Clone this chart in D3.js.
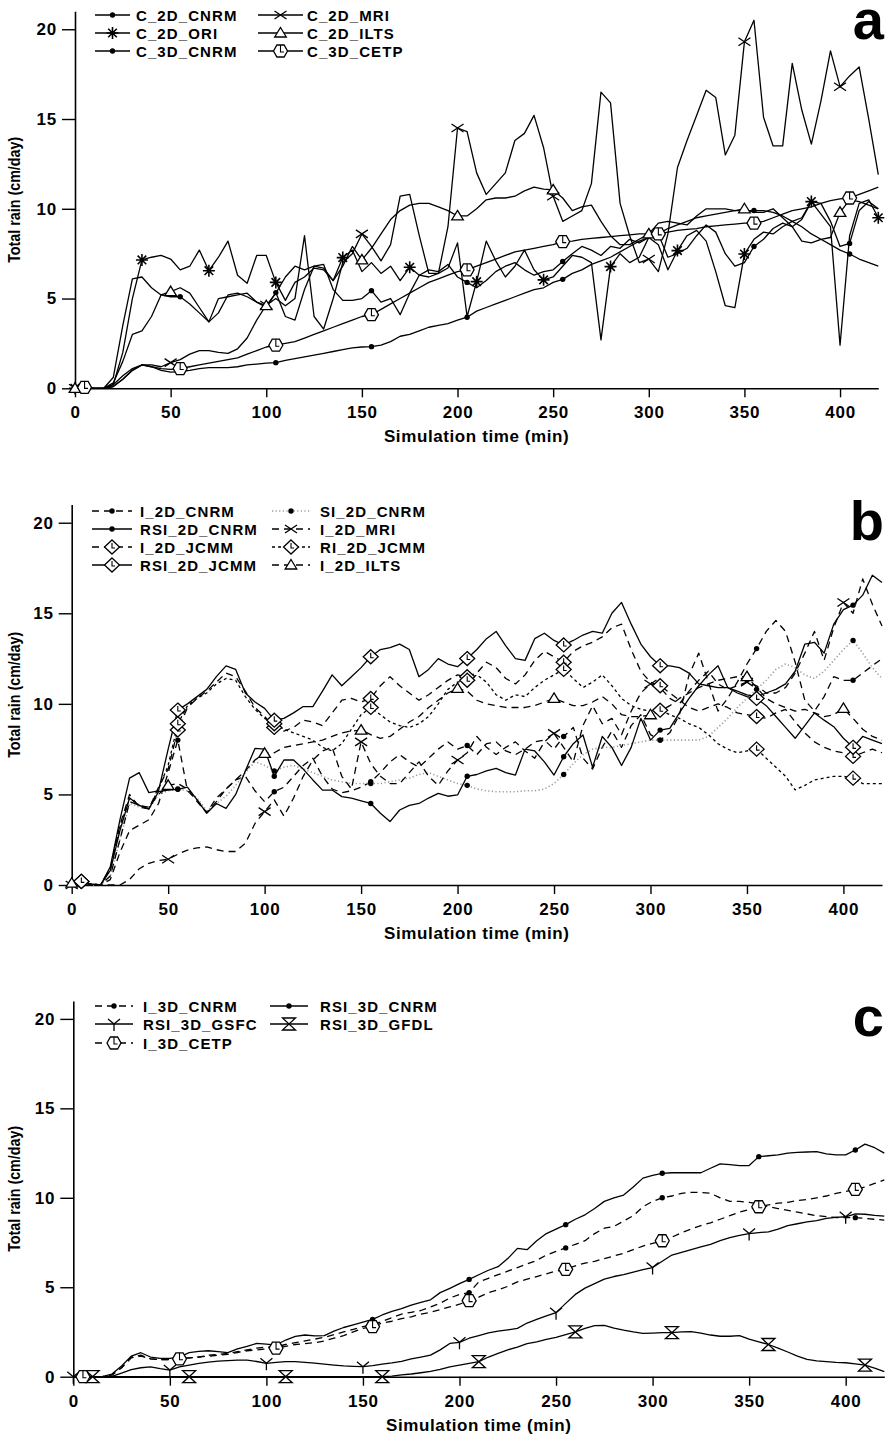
<!DOCTYPE html>
<html>
<head>
<meta charset="utf-8">
<script src="https://cdn.jsdelivr.net/npm/d3@7"></script>
<style>
  body { margin: 0; background: #fff; }
  svg { display: block; }
  text { font-family: "Liberation Sans", Arial, Helvetica, sans-serif; font-weight: bold; fill: #000; }
</style>
</head>
<body>
<svg id="chart"></svg>
<script>
// simulation output every 5 minutes, 0..420
const TIME = d3.range(0, 421, 5);
const X_TICKS = [0, 50, 100, 150, 200, 250, 300, 350, 400];
const Y_TICKS = [0, 5, 10, 15, 20];

// ---- panel a : control runs ----
const C2D_CNRM = [
  0.1, 0.1, 0, 0, 0.6, 3.5, 6.1, 6.2, 5.6, 5.2,
  5.1, 5.1, 4.7, 4.2, 3.7, 5.0, 5.1, 5.2, 5.3, 4.8,
  4.5, 5.33, 4.0, 3.8, 5.5, 6.8, 6.9, 5.5, 4.9, 4.9,
  5.0, 5.44, 4.8, 5.0, 4.1, 5.3, 6.3, 6.6, 6.5, 6.9,
  6.2, 5.9, 5.6, 6.0, 6.5, 6.8, 7.0, 6.6, 6.3, 6.5,
  6.6, 7.06, 7.5, 7.9, 7.7, 7.4, 7.9, 7.8, 8.3, 8.1,
  8.4, 8.6, 7.3, 7.5, 7.8, 8.5, 9.1, 8.7, 7.5, 6.8,
  7.0, 7.9, 8.3, 8.9, 9.2, 9.0, 9.4, 10.4, 10.3, 9.3,
  7.9, 8.07, 9.9, 10.4, 10.0];
const C2D_MRI = [
  0, 0, 0, 0, 0.1, 0.5, 1.0, 1.3, 1.3, 1.2,
  1.43, 1.6, 1.9, 2.1, 2.1, 2.0, 1.95, 2.2, 2.8, 3.8,
  4.64, 5.0, 4.6, 5.0, 8.5, 4.0, 3.3, 5.0, 7.0, 7.5,
  8.6, 7.9, 7.1, 8.0, 10.7, 10.8, 8.5, 6.4, 6.4, 9.0,
  14.5, 14.3, 12.0, 10.8, 11.4, 12.0, 13.8, 14.2, 15.2, 13.4,
  10.7, 9.3, 9.6, 9.9, 11.4, 16.5, 15.9, 10.3, 8.5, 7.0,
  7.2, 6.5, 8.6, 12.3, 13.8, 15.2, 16.6, 16.2, 13.0, 14.1,
  19.3, 20.5, 15.1, 13.5, 13.5, 18.1, 15.5, 13.6, 16.0, 18.8,
  16.8, 17.4, 17.9, 15.0, 11.9];
const C2D_ORI = [
  0, 0, 0, 0, 0.2, 2.0, 5.0, 7.15, 7.3, 7.4,
  7.2, 6.6, 6.8, 7.7, 6.55, 7.3, 8.2, 6.3, 5.85, 7.4,
  7.4, 5.9, 4.9, 5.9, 6.2, 6.7, 6.6, 6.0, 7.28, 7.7,
  6.5, 7.0, 6.4, 6.8, 6.0, 6.74, 6.3, 6.2, 6.4, 6.7,
  8.1, 4.0, 5.94, 8.2, 7.1, 6.2, 6.8, 7.7, 6.6, 6.04,
  6.2, 6.8, 7.4, 7.3, 7.0, 2.7, 6.78, 7.5, 7.0, 7.3,
  8.4, 8.0, 6.6, 7.67, 8.5, 8.8, 8.2, 6.5, 4.6, 4.5,
  7.48, 8.3, 8.7, 8.6, 9.0, 9.3, 9.5, 10.4, 9.7, 9.0,
  2.4, 8.5, 10.3, 10.5, 9.5];
const C2D_ILTS = [
  0, 0, 0, 0, 0.3, 1.5, 3.0, 3.2, 4.0, 5.2,
  5.39, 5.6, 5.3, 4.5, 3.7, 4.2, 5.2, 5.3, 5.1, 4.8,
  4.6, 5.3, 6.2, 6.8, 6.6, 6.8, 6.7, 6.0, 6.8, 7.9,
  7.15, 7.8, 8.6, 9.4, 9.9, 10.2, 10.3, 10.3, 10.1, 9.9,
  9.6, 9.6, 10.0, 10.5, 10.6, 10.6, 10.7, 11.0, 11.2, 11.1,
  11.05, 10.6, 9.9, 10.1, 10.2, 9.3, 8.5, 8.0, 8.0, 8.3,
  8.6, 9.2, 9.3, 9.2, 9.1, 9.6, 10.0, 10.0, 10.0, 9.9,
  10.0, 9.8, 9.8, 10.0, 9.5, 9.0, 8.2, 8.1, 8.3, 8.4,
  9.8, 10.5, 10.4, 10.2, 10.0];
const C3D_CNRM = [
  0, 0, 0, 0, 0.1, 0.5, 1.0, 1.3, 1.2, 1.0,
  0.9, 0.93, 1.0, 1.1, 1.15, 1.15, 1.15, 1.2, 1.3, 1.35,
  1.4, 1.43, 1.55, 1.65, 1.75, 1.85, 1.95, 2.05, 2.15, 2.25,
  2.3, 2.32, 2.4, 2.6, 2.9, 3.0, 3.2, 3.4, 3.5, 3.6,
  3.8, 3.96, 4.3, 4.5, 4.7, 4.9, 5.1, 5.3, 5.5, 5.6,
  5.9, 6.07, 6.4, 6.6, 6.9, 7.1, 7.3, 7.6, 7.9, 8.2,
  8.4, 8.6, 8.9, 9.1, 9.3, 9.5, 9.6, 9.7, 9.8, 9.9,
  9.9, 9.9, 9.9, 9.8, 9.6, 9.3, 9.0, 8.6, 8.3, 8.0,
  7.7, 7.48, 7.2, 7.0, 6.8];
const C3D_CETP = [
  0, 0.05, 0, 0, 0.2, 0.7, 1.1, 1.3, 1.2, 1.1,
  1.05, 1.1, 1.2, 1.3, 1.4, 1.5, 1.6, 1.7, 1.9, 2.1,
  2.3, 2.4, 2.5, 2.6, 2.8, 3.0, 3.2, 3.4, 3.6, 3.8,
  4.0, 4.1, 4.4, 4.7, 5.0, 5.3, 5.6, 5.9, 6.1, 6.3,
  6.5, 6.6, 6.8, 7.0, 7.2, 7.4, 7.6, 7.7, 7.8, 7.9,
  8.0, 8.17, 8.2, 8.3, 8.35, 8.4, 8.45, 8.5, 8.55, 8.6,
  8.6, 8.6, 8.7, 8.8, 8.85, 8.9, 9.0, 9.05, 9.1, 9.15,
  9.2, 9.2, 9.3, 9.5, 9.7, 9.9, 10.0, 10.1, 10.3, 10.45,
  10.55, 10.6, 10.8, 11.0, 11.2];

// ---- panel b : 2D runs with assimilation ----
const I2D_CNRM = [
  0.1, 0.15, 0.05, 0, 0.3, 1.8, 3.0, 3.3, 3.6, 4.5,
  6.2, 8.0, 5.2, 4.7, 4.0, 4.8, 5.3, 5.8, 6.0, 5.2,
  4.6, 5.15, 5.4, 6.0, 6.6, 7.0, 6.0, 5.3, 5.1, 5.2,
  5.4, 5.7, 6.2, 6.8, 7.2, 6.8, 6.5, 7.0, 7.5, 7.9,
  7.5, 7.7, 7.2, 7.8, 7.9, 7.4, 7.2, 7.5, 7.9, 8.0,
  7.5, 8.2, 8.7, 7.0, 6.4, 7.6, 8.5, 7.6, 8.8, 9.4,
  8.3, 8.0, 8.4, 9.4, 11.6, 12.8, 11.2, 9.6, 10.3, 11.2,
  12.2, 13.05, 14.0, 14.6, 14.0, 12.3, 10.2, 9.6, 10.4, 11.5,
  11.3, 11.3, 11.7, 12.1, 12.5];
const SI2D_CNRM = [
  0.1, 0.15, 0, 0, 0.5, 2.5, 4.5, 4.3, 4.2, 5.0,
  5.2, 5.3, 5.2, 4.8, 4.1, 4.5, 4.9, 5.5, 6.2, 6.8,
  6.6, 6.3, 6.5, 6.6, 6.4, 6.2, 6.0, 5.8, 5.7, 5.6,
  5.6, 5.6, 5.6, 5.7, 5.8, 5.9, 6.1, 6.2, 6.0, 5.8,
  5.6, 5.5, 5.3, 5.2, 5.15, 5.15, 5.15, 5.2, 5.2, 5.3,
  5.6, 6.1, 6.7, 7.2, 7.5, 7.6, 7.6, 7.7, 7.8, 7.9,
  8.0, 8.0, 8.0, 8.0, 8.0, 8.0, 8.2, 8.7, 9.2, 9.8,
  10.3, 10.8, 11.3, 11.9, 12.2, 12.0, 11.6, 11.4, 11.8, 12.4,
  13.0, 13.5, 12.8, 12.0, 11.4];
const RSI2D_CNRM = [
  0.1, 0.2, 0.05, 0, 0.8, 3.0, 4.8, 4.4, 4.2, 5.15,
  5.24, 5.28, 5.4, 4.7, 3.96, 4.5, 4.23, 5.0, 6.3, 7.54,
  7.5, 6.0, 6.9, 6.9, 6.4, 5.8, 5.24, 5.24, 4.88, 4.8,
  4.65, 4.5, 3.96, 3.5, 4.14, 4.4, 4.5, 4.8, 5.06, 4.9,
  4.97, 6.0, 6.1, 6.3, 6.44, 6.2, 6.07, 7.5, 7.4, 6.8,
  6.07, 7.08, 7.8, 8.28, 6.5, 8.2, 7.6, 6.6, 7.6, 9.2,
  8.0, 8.55, 8.65, 9.5, 10.3, 11.0, 11.6, 12.1, 10.9, 10.7,
  10.5, 10.4, 10.6, 10.8, 11.1, 11.8, 13.3, 13.4, 12.8, 14.4,
  15.2, 15.45, 16.0, 17.1, 16.7];
const I2D_MRI = [
  0, 0, 0, 0, 0, 0, 0.3, 0.9, 1.2, 1.35,
  1.42, 1.7, 1.93, 2.05, 2.1, 1.95, 1.85, 1.85, 2.3, 3.4,
  4.05, 4.7, 3.8, 4.8, 6.0, 6.9, 7.4, 7.6, 6.0, 5.3,
  7.9, 6.7, 6.0, 5.6, 5.6, 6.2, 6.8, 6.0, 5.5, 6.3,
  6.9, 7.3, 8.2, 7.6, 7.2, 7.6, 7.9, 7.4, 7.0, 7.9,
  8.37, 7.6, 6.8, 8.8, 9.9, 8.9, 9.2, 8.3, 9.6, 10.6,
  11.1, 10.9, 10.3, 10.0, 10.7, 11.3, 11.8, 11.1, 10.8, 11.0,
  11.2, 11.0, 10.6, 10.6, 10.9, 11.7, 12.8, 14.0, 12.4, 14.2,
  15.6, 15.0, 16.9, 15.5, 14.3];
const I2D_JCMM = [
  0.1, 0.2, 0.05, 0, 0.9, 3.3, 5.0, 4.3, 4.2, 5.4,
  6.4, 8.56, 9.8, 10.3, 10.7, 11.2, 11.7, 11.5, 10.7, 9.8,
  9.3, 8.7, 8.5, 8.7, 9.1, 9.0, 8.8, 9.5, 10.2, 10.3,
  10.1, 10.3, 11.0, 11.5, 11.0, 10.6, 10.2, 10.5, 10.9, 11.3,
  11.6, 11.5, 11.7, 12.3, 12.0, 11.4, 11.1, 11.6, 12.4, 12.9,
  12.6, 12.3, 12.9, 13.2, 13.4, 13.7, 14.2, 14.4, 13.0, 11.8,
  11.2, 11.0, 10.6, 10.2, 9.8, 9.6, 9.8, 10.0, 9.8, 9.5,
  9.4, 9.3, 9.2, 9.5, 9.7, 9.0, 8.4, 7.9, 7.6, 7.4,
  7.3, 7.1, 7.3, 7.5, 7.3];
const RI2D_JCMM = [
  0.1, 0.2, 0.05, 0, 0.9, 3.2, 4.8, 4.4, 4.2, 5.3,
  6.6, 8.9, 9.9, 10.3, 10.6, 11.1, 11.4, 11.3, 10.4, 9.7,
  9.2, 8.9, 8.6, 8.4, 8.2, 8.0, 7.6, 7.4, 7.8, 8.6,
  9.4, 9.8, 9.4, 9.0, 8.8, 8.7, 8.9, 9.3, 10.0, 10.8,
  11.2, 11.3, 11.6, 11.2, 10.5, 10.2, 10.5, 10.4, 10.9, 11.3,
  11.6, 11.9, 11.4, 10.9, 11.2, 11.6, 11.0, 10.3, 9.9, 9.7,
  9.6, 9.65, 9.4, 9.2, 8.9, 8.7, 8.3, 7.8, 7.5, 7.3,
  7.4, 7.5, 7.0, 6.5, 6.0, 5.25, 5.5, 5.8, 5.9, 6.0,
  6.0, 5.9, 5.6, 5.6, 5.6];
const RSI2D_JCMM = [
  0.1, 0.2, 0.05, 0, 1.0, 3.6, 5.9, 6.2, 5.1, 5.2,
  7.5, 9.66, 10.0, 10.4, 10.8, 11.5, 12.1, 11.9, 10.6, 10.1,
  9.75, 9.1, 9.2, 9.5, 9.85, 9.85, 10.7, 11.6, 11.0, 11.5,
  12.0, 12.6, 13.0, 13.1, 13.3, 13.0, 11.5, 11.9, 12.5, 12.2,
  12.05, 12.5, 13.0, 13.6, 14.0, 13.2, 12.5, 12.4, 13.6, 13.9,
  13.5, 13.25, 13.5, 13.8, 14.0, 13.9, 15.0, 15.6, 14.4, 13.3,
  12.6, 12.1, 12.1, 12.0, 11.7, 11.1, 11.0, 10.9, 10.9, 10.6,
  10.4, 10.3, 9.9, 9.3, 8.7, 8.1, 8.8, 9.5, 9.1, 8.74,
  8.1, 7.6, 8.2, 8.0, 7.8];
const I2D_ILTS = [
  0.1, 0.15, 0.05, 0, 0.5, 2.5, 4.6, 4.4, 4.3, 5.0,
  5.5, 5.6, 5.3, 4.6, 4.0, 4.6, 5.3, 5.8, 6.3, 6.9,
  7.27, 7.3, 7.6, 7.7, 7.8, 7.9, 8.0, 8.2, 8.4, 8.5,
  8.55, 8.3, 8.1, 8.2, 8.6, 9.0, 9.3, 9.8, 10.2, 10.6,
  10.85, 10.7, 10.2, 10.0, 9.9, 9.8, 9.8, 9.8, 9.9, 10.1,
  10.3, 10.1, 9.9, 9.9, 10.1, 10.4, 10.0, 9.4, 9.3, 9.3,
  9.4, 9.6, 9.9, 10.3, 10.6, 10.9, 11.1, 11.3, 11.4, 11.5,
  11.5, 10.9, 10.3, 10.0, 9.8, 9.6, 9.7, 9.5, 9.3, 9.4,
  9.75, 9.2, 8.6, 8.2, 8.0];

// ---- panel c : 3D runs ----
const I3D_CNRM = [
  0, 0.05, 0, 0, 0.1, 0.5, 1.1, 1.2, 1.0, 0.95,
  0.95, 1.0, 1.05, 1.1, 1.2, 1.25, 1.3, 1.4, 1.5, 1.6,
  1.65, 1.68, 1.8, 1.9, 2.0, 2.1, 2.2, 2.35, 2.5, 2.65,
  2.8, 2.9, 3.1, 3.3, 3.5, 3.6, 3.7, 3.9, 4.1, 4.4,
  4.6, 4.7, 5.3, 5.5, 5.7, 5.9, 6.1, 6.3, 6.5, 6.8,
  7.0, 7.2, 7.4, 7.6, 8.0, 8.3, 8.4, 8.7, 9.0, 9.5,
  9.8, 10.0, 10.1, 10.25, 10.3, 10.3, 10.25, 10.0, 9.8, 9.8,
  9.75, 9.65, 9.5, 9.4, 9.3, 9.2, 9.1, 9.0, 8.95, 8.9,
  8.9, 8.89, 8.85, 8.8, 8.75];
const RSI3D_CNRM = [
  0, 0.05, 0, 0, 0.15, 0.6, 1.15, 1.34, 1.1, 1.02,
  1.02, 1.1, 1.35, 1.42, 1.45, 1.4, 1.35, 1.55, 1.7, 1.86,
  1.82, 1.77, 2.05, 2.25, 2.33, 2.28, 2.3, 2.55, 2.75, 2.9,
  3.05, 3.2, 3.45, 3.65, 3.8, 4.0, 4.15, 4.3, 4.7, 4.94,
  5.2, 5.44, 5.7, 5.95, 6.15, 6.6, 7.17, 7.1, 7.6, 8.0,
  8.25, 8.5, 8.8, 9.05, 9.4, 9.8, 10.0, 10.15, 10.6, 11.1,
  11.25, 11.37, 11.4, 11.4, 11.4, 11.4, 11.65, 11.9, 11.85, 11.8,
  11.8, 12.3, 12.35, 12.4, 12.5, 12.54, 12.56, 12.58, 12.45, 12.4,
  12.4, 12.67, 13.0, 12.8, 12.5];
const RSI3D_GSFC = [
  0, 0, 0, 0, 0.02, 0.2, 0.4, 0.5, 0.55, 0.45,
  0.37, 0.55, 0.65, 0.75, 0.82, 0.87, 0.9, 0.93, 0.93, 0.85,
  0.75, 0.8, 0.84, 0.84, 0.8, 0.76, 0.7, 0.65, 0.6, 0.58,
  0.56, 0.62, 0.7, 0.77, 0.86, 1.0, 1.1, 1.21, 1.5, 1.86,
  1.92, 2.15, 2.3, 2.45, 2.55, 2.62, 2.7, 3.0, 3.2, 3.4,
  3.58, 4.1, 4.6, 4.95, 5.2, 5.45, 5.6, 5.7, 5.85, 5.98,
  6.1, 6.45, 6.8, 6.95, 7.1, 7.25, 7.4, 7.6, 7.77, 7.9,
  8.0, 8.05, 8.1, 8.25, 8.45, 8.55, 8.65, 8.72, 8.85, 8.9,
  8.94, 9.1, 9.08, 9.02, 8.98];
const RSI3D_GFDL = [
  0, 0, 0, 0, 0, 0, 0, 0, 0, 0,
  0, 0, 0, 0, 0, 0, 0, 0, 0, 0,
  0, 0, 0, 0, 0, 0, 0, 0, 0, 0,
  0, 0, 0, 0.03, 0.1, 0.15, 0.22, 0.3, 0.41, 0.55,
  0.65, 0.75, 0.84, 1.1, 1.3, 1.5, 1.65, 1.85, 1.95, 2.08,
  2.2, 2.35, 2.5, 2.7, 2.85, 2.87, 2.72, 2.6, 2.5, 2.42,
  2.44, 2.46, 2.46, 2.5, 2.52, 2.43, 2.33, 2.26, 2.26, 2.3,
  2.1, 1.95, 1.8, 1.6, 1.38, 1.15, 0.97, 0.88, 0.84, 0.8,
  0.78, 0.72, 0.65, 0.48, 0.28];
const I3D_CETP = [
  0, 0, 0, 0, 0.1, 0.5, 1.05, 1.15, 1.0, 0.95,
  0.95, 1.0, 1.05, 1.1, 1.15, 1.2, 1.25, 1.35, 1.45, 1.5,
  1.55, 1.6, 1.7, 1.8, 1.85, 1.9, 2.0, 2.15, 2.3, 2.5,
  2.7, 2.8, 3.0, 3.1, 3.25, 3.35, 3.5, 3.6, 3.75, 3.9,
  4.05, 4.25, 4.45, 4.7, 4.85, 5.05, 5.3, 5.45, 5.6, 5.75,
  5.9, 6.0, 6.2, 6.35, 6.45, 6.6, 6.75, 6.9, 7.1, 7.3,
  7.45, 7.6, 7.8, 8.05, 8.25, 8.45, 8.6, 8.8, 9.0, 9.2,
  9.35, 9.5, 9.6, 9.7, 9.75, 9.85, 9.9, 10.0, 10.1, 10.25,
  10.35, 10.47, 10.6, 10.8, 11.0];

const DASH = "7,5", SHORT = "3,3", DOTTED = "1.2,2.4";

const panels = [
  { letter: "a", x0: 75, x1: 878.3, y0: 388.3, y1: 11.3, letterY: 39,
    legend: { rows: [15, 33, 51], cols: [[95, 130, 136], [258, 303, 307]] },
    series: [
      { name: "C_2D_CNRM", v: C2D_CNRM, mark: "dot", m0: 5, step: 50 },
      { name: "C_2D_MRI", v: C2D_MRI, mark: "x", m0: 0, step: 50 },
      { name: "C_2D_ORI", v: C2D_ORI, mark: "star", m0: 0, step: 35 },
      { name: "C_2D_ILTS", v: C2D_ILTS, mark: "tri", m0: 0, step: 50 },
      { name: "C_3D_CNRM", v: C3D_CNRM, mark: "dot", m0: 5, step: 50 },
      { name: "C_3D_CETP", v: C3D_CETP, mark: "hex", m0: 5, step: 50 }
    ] },
  { letter: "b", x0: 71.7, x1: 882, y0: 885, y1: 504.6, letterY: 540,
    legend: { rows: [511, 529, 547, 565], cols: [[92, 132, 140], [272, 310, 320]] },
    series: [
      { name: "I_2D_CNRM", v: I2D_CNRM, mark: "dot", m0: 5, step: 50, dash: DASH },
      { name: "SI_2D_CNRM", v: SI2D_CNRM, mark: "dot", m0: 5, step: 50, dash: DOTTED, color: "#9a9a9a" },
      { name: "RSI_2D_CNRM", v: RSI2D_CNRM, mark: "dot", m0: 5, step: 50 },
      { name: "I_2D_MRI", v: I2D_MRI, mark: "x", m0: 0, step: 50, dash: DASH },
      { name: "I_2D_JCMM", v: I2D_JCMM, mark: "diamond", m0: 5, step: 50, dash: DASH },
      { name: "RI_2D_JCMM", v: RI2D_JCMM, mark: "diamond", m0: 5, step: 50, dash: SHORT },
      { name: "RSI_2D_JCMM", v: RSI2D_JCMM, mark: "diamond", m0: 5, step: 50 },
      { name: "I_2D_ILTS", v: I2D_ILTS, mark: "tri", m0: 0, step: 50, dash: DASH }
    ] },
  { letter: "c", x0: 73.3, x1: 884.3, y0: 1376.7, y1: 1001, letterY: 1036,
    legend: { rows: [1006, 1024, 1043], cols: [[95, 133, 143], [270, 308, 320]] },
    series: [
      { name: "I_3D_CNRM", v: I3D_CNRM, mark: "dot", m0: 5, step: 50, dash: DASH },
      { name: "RSI_3D_CNRM", v: RSI3D_CNRM, mark: "dot", m0: 5, step: 50 },
      { name: "RSI_3D_GSFC", v: RSI3D_GSFC, mark: "y", m0: 0, step: 50 },
      { name: "RSI_3D_GFDL", v: RSI3D_GFDL, mark: "hourglass", m0: 10, step: 50 },
      { name: "I_3D_CETP", v: I3D_CETP, mark: "hex", m0: 5, step: 50, dash: DASH }
    ] }
];

const svg = d3.select("#chart").attr("width", 888).attr("height", 1435);

// marker glyphs, drawn around (0,0)
function marker(g, type) {
  if (type === "dot") {
    g.append("circle").attr("r", 2.7).attr("fill", "#000");
    return;
  }
  const p = g.append("path").attr("stroke", "#000").attr("stroke-width", 1.3).attr("fill", "none");
  if (type === "x") {
    p.attr("d", "M-6,-4L6,4M-6,4L6,-4");
  } else if (type === "star") {
    p.attr("d", "M-6,0H6M0,-6V6M-4.3,-4.3L4.3,4.3M-4.3,4.3L4.3,-4.3").attr("stroke-width", 1.6);
  } else if (type === "tri") {
    p.attr("d", "M0,-5.5L5.8,4H-5.8Z").attr("fill", "#fff");
  } else if (type === "hex") {
    p.attr("d", "M-7,0L-3.6,-6H3.6L7,0L3.6,6H-3.6Z").attr("fill", "#fff");
    g.append("path").attr("d", "M0,-6V1H3.5").attr("stroke", "#000").attr("stroke-width", 1.1).attr("fill", "none");
  } else if (type === "diamond") {
    p.attr("d", "M0,-7L7.5,0L0,7L-7.5,0Z").attr("fill", "#fff");
    g.append("path").attr("d", "M0,-4V1H3").attr("stroke", "#000").attr("stroke-width", 1.1).attr("fill", "none");
  } else if (type === "y") {
    p.attr("d", "M0,0V7M0,0L-6,-5M0,0L6,-5");
  } else if (type === "hourglass") {
    p.attr("d", "M-6.5,-6H6.5L-6.5,6H6.5Z").attr("fill", "#fff");
  }
}

panels.forEach(P => {
  const x = d3.scaleLinear().domain([0, 420]).range([P.x0, P.x1]);
  const y = d3.scaleLinear().domain([0, 21]).range([P.y0, P.y1]);
  const g = svg.append("g");

  // x axis
  const xa = g.append("g").attr("transform", `translate(0,${P.y0})`)
    .call(d3.axisBottom(x).tickValues(X_TICKS).tickSize(9).tickPadding(6).tickSizeOuter(0));
  // y axis
  const ya = g.append("g").attr("transform", `translate(${P.x0},0)`)
    .call(d3.axisLeft(y).tickValues(Y_TICKS).tickSize(13).tickPadding(5).tickSizeOuter(0));
  [xa, ya].forEach(a => {
    a.select(".domain").attr("stroke", "#000").attr("stroke-width", 1.6);
    a.selectAll(".tick line").attr("stroke", "#000").attr("stroke-width", 1.4);
    a.selectAll(".tick text").attr("font-size", 17).attr("letter-spacing", 0.8)
      .attr("font-family", "'Liberation Sans', Arial, sans-serif").attr("font-weight", "bold").attr("fill", "#000");
  });
  xa.selectAll(".tick text").attr("dy", null).attr("y", 30);

  // axis titles
  g.append("text").attr("x", (P.x0 + P.x1) / 2).attr("y", P.y0 + 54)
    .attr("text-anchor", "middle").attr("font-size", 17).attr("letter-spacing", 0.6)
    .text("Simulation time (min)");
  g.append("text").attr("transform", `translate(20,${(P.y0 + P.y1) / 2}) rotate(-90)`)
    .attr("text-anchor", "middle").attr("font-size", 16)
    .attr("textLength", 126).attr("lengthAdjust", "spacingAndGlyphs")
    .text("Total rain (cm/day)");

  // panel letter
  g.append("text").attr("x", 884).attr("y", P.letterY).attr("text-anchor", "end")
    .attr("font-size", 56).text(P.letter);

  const line = d3.line().x((d, i) => x(TIME[i])).y(d => y(d));

  P.series.forEach(s => {
    g.append("path").datum(s.v).attr("d", line)
      .attr("fill", "none").attr("stroke", s.color || "#000")
      .attr("stroke-width", s.color ? 1.6 : 1.3)
      .attr("stroke-dasharray", s.dash || null)
      .attr("stroke-linejoin", "round");
  });
  P.series.forEach(s => {
    TIME.forEach((t, i) => {
      if (t >= s.m0 && (t - s.m0) % s.step === 0) {
        marker(g.append("g").attr("transform", `translate(${x(t)},${y(s.v[i])})`), s.mark);
      }
    });
  });

  // legend
  P.series.forEach((s, i) => {
    const ry = P.legend.rows[Math.floor(i / 2)];
    const [a, b, tx] = P.legend.cols[i % 2];
    g.append("line").attr("x1", a).attr("x2", b).attr("y1", ry).attr("y2", ry)
      .attr("stroke", s.color || "#000").attr("stroke-width", s.color ? 1.6 : 1.3)
      .attr("stroke-dasharray", s.dash || null);
    marker(g.append("g").attr("transform", `translate(${(a + b) / 2},${ry})`), s.mark);
    g.append("text").attr("x", tx).attr("y", ry + 5.5).attr("font-size", 15)
      .attr("letter-spacing", 1.1).text(s.name);
  });
});
</script>
</body>
</html>
